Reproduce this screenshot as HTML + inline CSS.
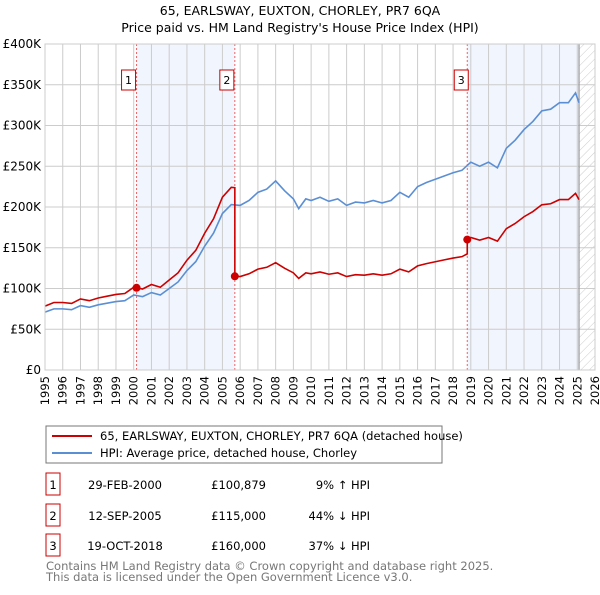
<!DOCTYPE html>
<html><head><meta charset="utf-8"><style>
body{margin:0;background:#fff;font-family:"Liberation Sans","DejaVu Sans",sans-serif;}
svg text{font-family:"DejaVu Sans","Liberation Sans",sans-serif;}
</style></head><body>
<svg id="c" width="600" height="590" xmlns="http://www.w3.org/2000/svg">
<defs><pattern id="hatch" width="6" height="6" patternUnits="userSpaceOnUse" patternTransform="rotate(45)"><line x1="0" y1="0" x2="0" y2="6" stroke="#ccc" stroke-width="1"/></pattern></defs>
<text x="300" y="15" text-anchor="middle" font-size="12.5">65, EARLSWAY, EUXTON, CHORLEY, PR7 6QA</text>
<text x="300" y="32" text-anchor="middle" font-size="12.5">Price paid vs. HM Land Registry's House Price Index (HPI)</text>
<g id="plot"></g>
<g id="legend">
<rect x="46" y="426" width="396" height="37" fill="#fff" stroke="#777"/>
<line x1="52" y1="436" x2="92" y2="436" stroke="#cc0000" stroke-width="2"/>
<text x="100" y="440" font-size="11.5">65, EARLSWAY, EUXTON, CHORLEY, PR7 6QA (detached house)</text>
<line x1="52" y1="453" x2="92" y2="453" stroke="#5b8fd4" stroke-width="2"/>
<text x="100" y="457" font-size="11.5">HPI: Average price, detached house, Chorley</text>
</g>
<g id="table" font-size="11.5"></g>
<text x="46" y="570" font-size="11.5" fill="#777">Contains HM Land Registry data © Crown copyright and database right 2025.</text>
<text x="46" y="581" font-size="11.5" fill="#777">This data is licensed under the Open Government Licence v3.0.</text>
</svg>
<script>
const hpiYears=[1995,1995.5,1996,1996.5,1997,1997.5,1998,1998.5,1999,1999.5,2000,2000.5,2001,2001.5,2002,2002.5,2003,2003.5,2004,2004.5,2005,2005.5,2006,2006.5,2007,2007.5,2008,2008.5,2009,2009.3,2009.7,2010,2010.5,2011,2011.5,2012,2012.5,2013,2013.5,2014,2014.5,2015,2015.5,2016,2016.5,2017,2017.5,2018,2018.5,2019,2019.5,2020,2020.5,2021,2021.5,2022,2022.5,2023,2023.5,2024,2024.5,2024.9,2025.1];
const hpiValues=[71,75,75,74,79,77,80,82,84,85,92,90,95,92,100,108,122,133,152,168,192,203,202,208,218,222,232,220,210,198,210,208,212,207,210,202,206,205,208,205,208,218,212,225,230,234,238,242,245,255,250,255,248,272,282,295,305,318,320,328,328,340,328];
const saleDates=[2000.16,2005.7,2018.8];
const salePrices=[100.879,115,160];
const saleLabels=['1','2','3'];
const saleDateText=['29-FEB-2000','12-SEP-2005','19-OCT-2018'];
const salePriceText=['£100,879','£115,000','£160,000'];
const saleHpiText=['9% ↑ HPI','44% ↓ HPI','37% ↓ HPI'];
const yTicks=[0,50,100,150,200,250,300,350,400];
const yTickLabels=['£0','£50K','£100K','£150K','£200K','£250K','£300K','£350K','£400K'];
const xYears=[];for(let y=1995;y<=2026;y++)xYears.push(y);

const X0=45,X1=595,Y0=370,Y1=44;
const xs=t=>X0+(t-1995)/(2026-1995)*(X1-X0);
const ys=v=>Y0-v/400*(Y0-Y1);
const NS='http://www.w3.org/2000/svg';
const g=document.getElementById('plot');
function mk(tag,attrs,parent){const e=document.createElementNS(NS,tag);for(const k in attrs)e.setAttribute(k,attrs[k]);(parent||g).appendChild(e);return e;}
function hpiAt(t){for(let i=0;i<hpiYears.length-1;i++){if(t>=hpiYears[i]&&t<=hpiYears[i+1]){const f=(t-hpiYears[i])/(hpiYears[i+1]-hpiYears[i]);return hpiValues[i]+f*(hpiValues[i+1]-hpiValues[i]);}}return hpiValues[hpiValues.length-1];}

// shading
let r=mk('rect',{x:xs(saleDates[0]),y:Y1,width:xs(saleDates[1])-xs(saleDates[0]),height:Y0-Y1,fill:'#eef3fc',opacity:0.8});


r=mk('rect',{x:xs(saleDates[2]),y:Y1,width:xs(2025.1)-xs(saleDates[2]),height:Y0-Y1,fill:'#eef3fc',opacity:0.8});


r=mk('rect',{x:xs(2025.1),y:Y1,width:X1-xs(2025.1),height:Y0-Y1,fill:'url(#hatch)'});


// grid
xYears.forEach(y=>{const l=mk('line',{x1:xs(y),x2:xs(y),y1:Y1,y2:Y0,stroke:'#ccc','stroke-width':1});


const t=mk('text',{x:0,y:0,'font-size':11.5,'text-anchor':'end',transform:`translate(${xs(y)+4},${Y0+6}) rotate(-90)`});t.textContent=y;

});
yTicks.forEach((v,i)=>{const l=mk('line',{x1:X0,x2:X1,y1:ys(v),y2:ys(v),stroke:'#ccc','stroke-width':1});


const t=mk('text',{x:X0-4,y:ys(v)+4,'font-size':12,'text-anchor':'end'});t.textContent=yTickLabels[i];

});
let ln=mk('line',{x1:xs(2025.1),x2:xs(2025.1),y1:Y1,y2:Y0,stroke:'#999','stroke-width':1.2});


// sale vlines
saleDates.forEach((d,i)=>{const l=mk('line',{x1:xs(d),x2:xs(d),y1:Y1,y2:Y0,stroke:'#f06060','stroke-width':1,'stroke-dasharray':'2,2'});

});
// HPI line
let pts=hpiYears.map((t,i)=>xs(t)+','+ys(hpiValues[i])).join(' ');
let p=mk('polyline',{points:pts,fill:'none',stroke:'#5b8fd4','stroke-width':1.6});


// property line (HPI scaled by sale ratios)
const ratios=saleDates.map((d,i)=>salePrices[i]/hpiAt(d));
let rp=[];
hpiYears.forEach((t,i)=>{let k=0;if(t>=saleDates[1])k=1;if(t>=saleDates[2])k=2;
 // insert sale points at boundaries
 rp.push([t,hpiValues[i]*ratios[k]]);});
for(let k=1;k<3;k++){const d=saleDates[k];const idx=rp.findIndex(q=>q[0]>=d);rp.splice(idx,0,[d,hpiAt(d)*ratios[k-1]],[d,salePrices[k]]);}
p=mk('polyline',{points:rp.map(q=>xs(q[0])+','+ys(q[1])).join(' '),fill:'none',stroke:'#cc0000','stroke-width':1.6});


saleDates.forEach((d,i)=>{const c=mk('circle',{cx:xs(d),cy:ys(salePrices[i]),r:4,fill:'#cc0000'});


const b=mk('rect',{x:xs(d)-21+11-7,y:70,width:14,height:20,fill:'#fff',stroke:'#cc0000'});
b.setAttribute('x',xs(d)-(i==2?6:8)-7);


const t=mk('text',{x:xs(d)-(i==2?6:8),y:84,'font-size':11,'text-anchor':'middle'});t.textContent=saleLabels[i];

});
let ax=mk('rect',{x:X0,y:Y1,width:X1-X0,height:Y0-Y1,fill:'none',stroke:'#ccc'});


// table
const tb=document.getElementById('table');
const rowY=[485,516,546];
saleLabels.forEach((s,i)=>{const y=rowY[i];
 const b=mk('rect',{x:46,y:y-12,width:14,height:22,fill:'#fff',stroke:'#cc0000'},tb);
 
 
 const cells=[[53,'middle',s],[125,'middle',saleDateText[i]],[266,'end',salePriceText[i]],[370,'end',saleHpiText[i]]];
 cells.forEach((c,j)=>{const t=mk('text',{x:c[0],y:y+4,'text-anchor':c[1]},tb);t.textContent=c[2];
 
 });});
</script>
</body></html>
